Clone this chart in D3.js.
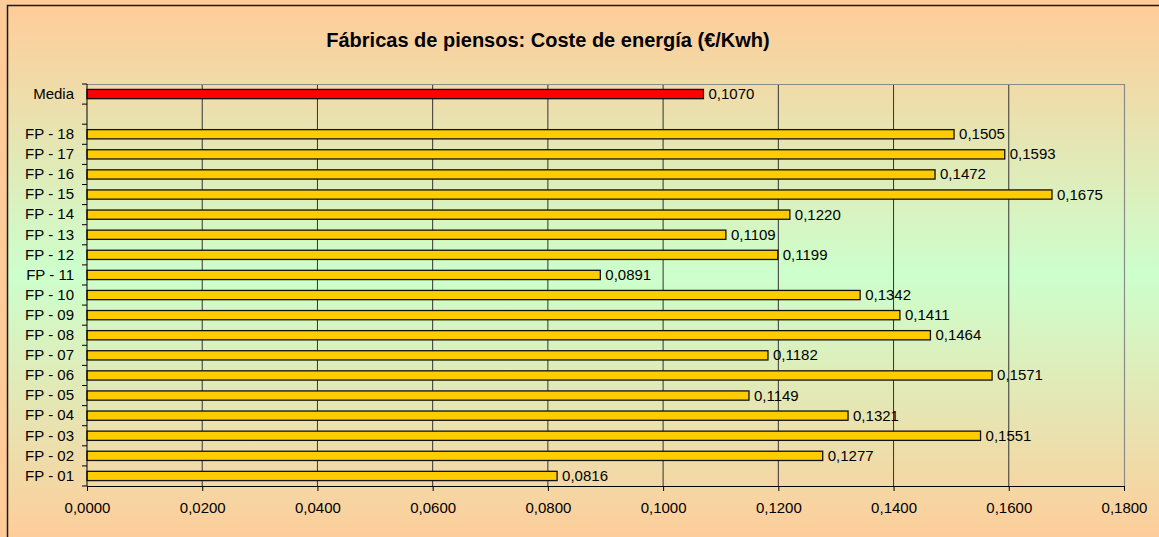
<!doctype html>
<html>
<head>
<meta charset="utf-8">
<script src="https://cdnjs.cloudflare.com/ajax/libs/d3/7.8.5/d3.min.js"></script>
<style>
  body { margin: 0; background: #FFCC99; }
  svg { display: block; font-family: "Liberation Sans", Arial, sans-serif; }
</style>
</head>
<body>
<svg id="chart" width="1159" height="537"></svg>
<script>
  // categories from top to bottom, "" is the empty slot under Media
  var categories = ["Media", "", "FP - 18", "FP - 17", "FP - 16", "FP - 15", "FP - 14", "FP - 13",
                    "FP - 12", "FP - 11", "FP - 10", "FP - 09", "FP - 08", "FP - 07", "FP - 06",
                    "FP - 05", "FP - 04", "FP - 03", "FP - 02", "FP - 01"];
  var costs = [0.1070, null, 0.1505, 0.1593, 0.1472, 0.1675, 0.1220, 0.1109,
               0.1199, 0.0891, 0.1342, 0.1411, 0.1464, 0.1182, 0.1571,
               0.1149, 0.1321, 0.1551, 0.1277, 0.0816];
  var xTicks = [0, 0.02, 0.04, 0.06, 0.08, 0.10, 0.12, 0.14, 0.16, 0.18];
  var title = "Fábricas de piensos: Coste de energía (€/Kwh)";

  var data = categories.map((c, i) => ({cat: c, value: costs[i]}));

  var svg = d3.select("#chart");
  var W = 1159, H = 537;
  var m = {left: 87, right: 1124, top: 84, bottom: 486};
  var fs = 15;

  // background gradient
  var defs = svg.append("defs");
  var grad = defs.append("linearGradient")
    .attr("id", "bg")
    .attr("gradientUnits", "userSpaceOnUse")
    .attr("x1", 0).attr("y1", 5).attr("x2", 0).attr("y2", 545);
  grad.append("stop").attr("offset", 0).attr("stop-color", "#FFCC99");
  grad.append("stop").attr("offset", 0.5).attr("stop-color", "#CCFFCC");
  grad.append("stop").attr("offset", 1).attr("stop-color", "#FFCC99");

  svg.append("rect").attr("width", W).attr("height", H).attr("fill", "#FFCC99");
  svg.append("rect")
    .attr("x", 7.5).attr("y", 5.5)
    .attr("width", W + 20).attr("height", H + 20)
    .attr("fill", "url(#bg)")
    .attr("stroke", "#1a1a1a").attr("stroke-width", 1.5);

  var x = d3.scaleLinear().domain([0, 0.18]).range([m.left, m.right]);
  var y = d3.scaleBand().domain(categories).range([m.top, m.bottom])
    .paddingInner(0.54).paddingOuter(0.27);
  var step = y.step();

  // gridlines
  svg.append("g").selectAll("line")
    .data(xTicks.slice(1, -1))
    .enter().append("line")
    .attr("x1", d => x(d)).attr("x2", d => x(d))
    .attr("y1", m.top).attr("y2", m.bottom)
    .attr("stroke", "#333").attr("stroke-width", 1);

  // plot border (top/right, gray)
  svg.append("path")
    .attr("d", "M" + m.left + "," + (m.top + 0.5) + "H" + (m.right + 0.5) + "V" + m.bottom)
    .attr("fill", "none").attr("stroke", "#8a8a8a").attr("stroke-width", 1.2);

  // bars
  svg.append("g").selectAll("rect")
    .data(data.filter(d => d.value != null))
    .enter().append("rect")
    .attr("x", x(0))
    .attr("y", d => y(d.cat))
    .attr("width", d => x(d.value) - x(0))
    .attr("height", y.bandwidth())
    .attr("fill", d => d.cat == "Media" ? "#FF0000" : "#FFCC00")
    .attr("stroke", "#111").attr("stroke-width", 1.3);

  // value labels
  var fmt = v => v.toFixed(4).replace(".", ",");
  svg.append("g").selectAll("text")
    .data(data.filter(d => d.value != null))
    .enter().append("text")
    .attr("x", d => x(d.value) + 5)
    .attr("y", d => y(d.cat) + y.bandwidth() / 2)
    .attr("dy", "0.33em")
    .attr("font-size", fs)
    .attr("fill", "#000")
    .text(d => fmt(d.value));

  // x axis
  var xAxis = d3.axisBottom(x).tickValues(xTicks).tickFormat(fmt)
    .tickSize(5).tickPadding(11).tickSizeOuter(0);
  var gx = svg.append("g").attr("transform", "translate(0," + m.bottom + ")").call(xAxis);
  gx.attr("font-size", fs).attr("font-family", null);
  gx.selectAll("text").attr("fill", "#000");
  gx.selectAll("line").attr("stroke", "#000");
  gx.select(".domain").attr("stroke", "#000");

  // y axis: labels only, ticks on category boundaries
  var yAxis = d3.axisLeft(y).tickSize(0).tickPadding(13);
  var gy = svg.append("g").attr("transform", "translate(" + m.left + ",0)").call(yAxis);
  gy.attr("font-size", fs).attr("font-family", null);
  gy.selectAll("text").attr("fill", "#000");
  gy.select(".domain").remove();

  var bounds = d3.range(categories.length + 1).map(i => m.top + i * step);
  svg.append("g").selectAll("line")
    .data(bounds)
    .enter().append("line")
    .attr("x1", m.left - 5).attr("x2", m.left)
    .attr("y1", d => d).attr("y2", d => d)
    .attr("stroke", "#000");
  svg.append("line")
    .attr("x1", m.left).attr("x2", m.left)
    .attr("y1", m.top).attr("y2", m.bottom)
    .attr("stroke", "#000");

  // title
  svg.append("text")
    .attr("x", 548).attr("y", 47)
    .attr("text-anchor", "middle")
    .attr("font-size", 20).attr("font-weight", "bold")
    .text(title);
</script>
</body>
</html>
